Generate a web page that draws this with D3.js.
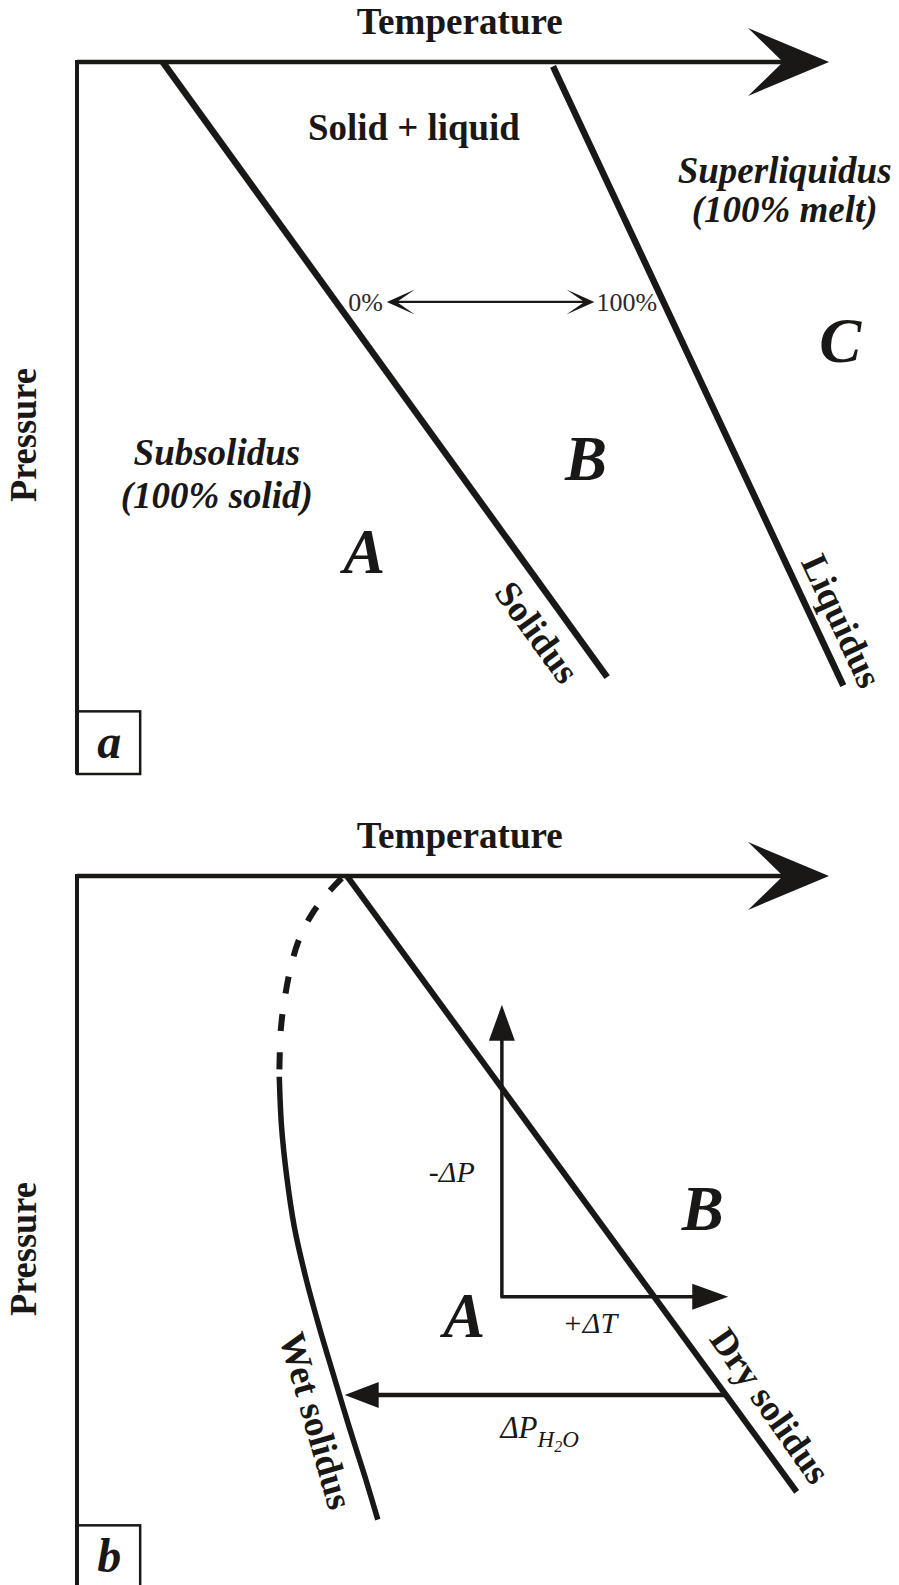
<!DOCTYPE html>
<html><head><meta charset="utf-8">
<script src="https://cdn.jsdelivr.net/npm/d3@7"></script>
<style>body{margin:0;background:#fff}svg{display:block}</style>
</head><body><svg id="c" width="899" height="1585"></svg>
<script>
// ---------- data (T = temperature units 0-100, P = pressure units 0-100, pressure increasing downward) ----------
const axisTitles = ["Temperature", "Pressure"];
const panelLetters = ["a", "b"];

// panel a
const solidusA = [[11.4, 0], [70.5, 86.4]];
const liquidusA = [[63.3, 0.6], [101.9, 87.6]];
const meltArrowA = [[41.2, 33.7], [68.8, 33.7]];
const meltEndLabels = ["0%", "100%"];
const regionTitlesA = ["Solid + liquid"];
const regionTitlesAPos = [[44.8, 11.0]];
const italicLinesA = [["Subsolidus", "(100% solid)"], ["Superliquidus", "(100% melt)"]];
const italicLinesAPos = [[18.6, 56.6, 62.6], [94.1, 17.0, 22.5]];
const fieldLettersA = ["A", "B", "C"];
const fieldLettersAPos = [[38.2, 71.8], [67.7, 58.7], [101.5, 42.1]];
const curveLabelsA = ["Solidus", "Liquidus"];
const curveLabelsAPos = [[61.2, 80.1, 54], [101.7, 78.5, 65]];

// panel b
const drySolidusB = [[35.9, 0], [95.7, 86.5]];
const wetSolidusDashedB = [[35.2, 0.3], [33.1, 2.7], [31.1, 5.6], [29.5, 9.0], [28.5, 12.5], [27.7, 16.7], [27.1, 21.6], [26.9, 28.2]];
const wetSolidusB = [[26.9, 28.2], [27.2, 35.2], [27.9, 42.3], [28.9, 49.3], [30.4, 56.3], [32.2, 63.3], [34.2, 70.4], [36.2, 77.4], [38.3, 84.4], [40.0, 90.4]];
const dPArrowB = [[56.5, 59.1], [56.5, 18.1]];
const dTArrowB = [[56.3, 59.1], [86.6, 59.1]];
const dH2OArrowB = [[86.2, 72.9], [35.6, 72.9]];
const fieldLettersB = ["A", "B"];
const fieldLettersBPos = [[51.5, 64.7], [83.2, 49.7]];
const curveLabelsB = ["Wet solidus", "Dry solidus"];
const curveLabelsBPos = [[31.8, 76.5, 74], [92.2, 74.4, 55]];
const deltaLabels = ["-\u0394P", "+\u0394T"];
const deltaLabelsPos = [[52.9, 43.0], [68.2, 64.2]];
const h2oLabelPos = [56.3, 79.0];

// ---------- drawing ----------
const INK = "#1a1816";
const svg = d3.select("#c");
const x = d3.scaleLinear().domain([0, 100]).range([77, 829]);
const yA = d3.scaleLinear().domain([0, 100]).range([62, 774]);
const yB = d3.scaleLinear().domain([0, 100]).range([876, 1588]);
const SERIF = "'Liberation Serif','Times New Roman',serif";

function lineGen(y, curve) {
  return d3.line().x(d => x(d[0])).y(d => y(d[1])).curve(curve || d3.curveLinear);
}
function head(g, tx, ty, angle, len, half, notch) {
  g.append("path")
    .attr("d", `M0,0 L${-len},${-half} L${-notch},0 L${-len},${half} Z`)
    .attr("transform", `translate(${tx},${ty}) rotate(${angle})`)
    .attr("fill", INK);
}
function arrow(g, y, pts, width, len, half, notch) {
  const [a, b] = pts;
  const x1 = x(a[0]), y1 = y(a[1]), x2 = x(b[0]), y2 = y(b[1]);
  const ang = Math.atan2(y2 - y1, x2 - x1);
  const ex = x2 - Math.cos(ang) * (notch - 1), ey = y2 - Math.sin(ang) * (notch - 1);
  g.append("line").attr("x1", x1).attr("y1", y1).attr("x2", ex).attr("y2", ey)
    .attr("stroke", INK).attr("stroke-width", width);
  head(g, x2, y2, ang * 180 / Math.PI, len, half, notch);
}

function frame(g, y, letter) {
  arrow(g, y, [[0, 0], [100, 0]], 4.5, 81, 34, 46);
  g.append("line").attr("x1", x(0)).attr("y1", y(0) - 2).attr("x2", x(0)).attr("y2", y(100))
    .attr("stroke", INK).attr("stroke-width", 4);
  g.append("text").text(axisTitles[0])
    .attr("x", x(50.9)).attr("y", y(-3.9)).attr("text-anchor", "middle")
    .attr("textLength", 206).attr("lengthAdjust", "spacingAndGlyphs")
    .attr("font-family", SERIF).attr("font-weight", "bold").attr("font-size", 38).attr("fill", INK);
  g.append("text").text(axisTitles[1])
    .attr("transform", `translate(${x(-5.4)},${y(52.4)}) rotate(-90)`).attr("text-anchor", "middle")
    .attr("textLength", 134).attr("lengthAdjust", "spacingAndGlyphs")
    .attr("font-family", SERIF).attr("font-weight", "bold").attr("font-size", 38).attr("fill", INK);
  g.append("rect").attr("x", x(0)).attr("y", y(91.2)).attr("width", x(8.4) - x(0)).attr("height", y(100) - y(91.2))
    .attr("fill", "none").attr("stroke", INK).attr("stroke-width", 2.5);
  g.append("text").text(letter)
    .attr("x", x(4.3)).attr("y", y(97.8)).attr("text-anchor", "middle")
    .attr("font-family", SERIF).attr("font-weight", "bold").attr("font-style", "italic").attr("font-size", 48).attr("fill", INK);
}
function rotLabel(g, y, text, p, size) {
  g.append("text").text(text)
    .attr("transform", `translate(${x(p[0])},${y(p[1])}) rotate(${p[2]})`)
    .attr("text-anchor", "middle").attr("dominant-baseline", "central")
    .attr("font-family", SERIF).attr("font-weight", "bold").attr("font-size", size).attr("fill", INK);
}
function bigLetter(g, y, t, p) {
  g.append("text").text(t).attr("x", x(p[0])).attr("y", y(p[1])).attr("text-anchor", "middle")
    .attr("font-family", SERIF).attr("font-weight", "bold").attr("font-style", "italic")
    .attr("font-size", 63).attr("fill", INK);
}

// ----- panel a -----
const ga = svg.append("g");
frame(ga, yA, panelLetters[0]);
ga.append("path").attr("d", lineGen(yA)(solidusA)).attr("stroke", INK).attr("stroke-width", 6.5).attr("fill", "none");
ga.append("path").attr("d", lineGen(yA)(liquidusA)).attr("stroke", INK).attr("stroke-width", 6.5).attr("fill", "none");
(function () {
  const [a, b] = meltArrowA;
  const yy = yA(a[1]);
  ga.append("line").attr("x1", x(a[0]) + 9).attr("x2", x(b[0]) - 9).attr("y1", yy).attr("y2", yy)
    .attr("stroke", INK).attr("stroke-width", 2.2);
  head(ga, x(a[0]), yy, 180, 28, 12.5, 10);
  head(ga, x(b[0]), yy, 0, 28, 12.5, 10);
  ga.append("text").text(meltEndLabels[0]).attr("x", x(a[0]) - 4).attr("y", yy).attr("dy", "0.35em")
    .attr("text-anchor", "end").attr("font-family", SERIF).attr("font-size", 26).attr("fill", "#2a2a2a");
  ga.append("text").text(meltEndLabels[1]).attr("x", x(b[0]) + 2).attr("y", yy).attr("dy", "0.35em")
    .attr("text-anchor", "start").attr("font-family", SERIF).attr("font-size", 26).attr("fill", "#2a2a2a");
})();
regionTitlesA.forEach((t, i) => {
  ga.append("text").text(t).attr("x", x(regionTitlesAPos[i][0])).attr("y", yA(regionTitlesAPos[i][1]))
    .attr("text-anchor", "middle").attr("font-family", SERIF).attr("font-weight", "bold")
    .attr("textLength", 212).attr("lengthAdjust", "spacingAndGlyphs")
    .attr("font-size", 38).attr("fill", INK);
});
italicLinesA.forEach((lines, i) => {
  const p = italicLinesAPos[i];
  lines.forEach((t, j) => {
    ga.append("text").text(t).attr("x", x(p[0])).attr("y", yA(p[1 + j]))
      .attr("text-anchor", "middle").attr("font-family", SERIF).attr("font-weight", "bold")
      .attr("font-style", "italic").attr("font-size", 37).attr("fill", INK);
  });
});
fieldLettersA.forEach((t, i) => bigLetter(ga, yA, t, fieldLettersAPos[i]));
curveLabelsA.forEach((t, i) => rotLabel(ga, yA, t, curveLabelsAPos[i], 37));

// ----- panel b -----
const gb = svg.append("g");
frame(gb, yB, panelLetters[1]);
gb.append("path").attr("d", lineGen(yB)(drySolidusB)).attr("stroke", INK).attr("stroke-width", 6).attr("fill", "none");
gb.append("path").attr("d", lineGen(yB, d3.curveCatmullRom)(wetSolidusDashedB)).attr("stroke", INK)
  .attr("stroke-width", 6).attr("fill", "none").attr("stroke-dasharray", "17 21");
gb.append("path").attr("d", lineGen(yB, d3.curveCatmullRom)(wetSolidusB)).attr("stroke", INK)
  .attr("stroke-width", 5.5).attr("fill", "none");
arrow(gb, yB, dPArrowB, 3.5, 36, 13, 36);
arrow(gb, yB, dTArrowB, 3.5, 36, 13, 36);
arrow(gb, yB, dH2OArrowB, 4.5, 34, 13, 34);
fieldLettersB.forEach((t, i) => bigLetter(gb, yB, t, fieldLettersBPos[i]));
curveLabelsB.forEach((t, i) => rotLabel(gb, yB, t, curveLabelsBPos[i], 37));
deltaLabels.forEach((t, i) => {
  gb.append("text").text(t).attr("x", x(deltaLabelsPos[i][0])).attr("y", yB(deltaLabelsPos[i][1]))
    .attr("text-anchor", i === 0 ? "end" : "middle").attr("font-family", SERIF)
    .attr("font-style", "italic").attr("font-size", 30).attr("fill", INK);
});
(function () {
  const t = gb.append("text").attr("x", x(h2oLabelPos[0])).attr("y", yB(h2oLabelPos[1]))
    .attr("font-family", SERIF).attr("font-style", "italic").attr("font-size", 31).attr("fill", INK);
  t.append("tspan").text("\u0394P");
  t.append("tspan").text("H").attr("font-size", 23).attr("dy", 9);
  t.append("tspan").text("2").attr("font-size", 16).attr("dy", 5);
  t.append("tspan").text("O").attr("font-size", 23).attr("dy", -5);
})();
</script>
</body></html>
